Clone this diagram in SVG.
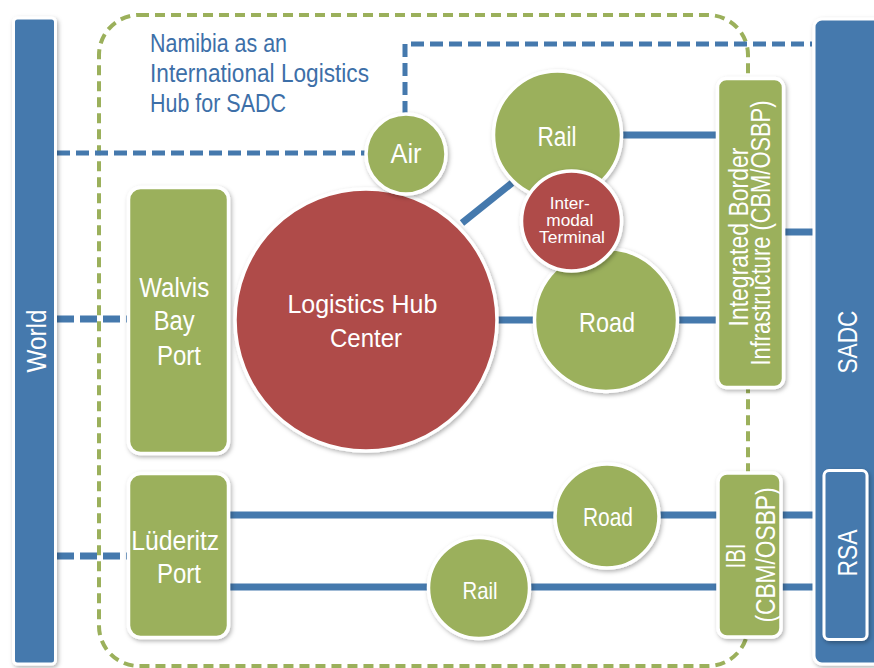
<svg xmlns="http://www.w3.org/2000/svg" width="874" height="668" viewBox="0 0 874 668">
  <defs>
    <filter id="shadow" x="-20%" y="-20%" width="140%" height="140%">
      <feDropShadow dx="1.5" dy="2" stdDeviation="2" flood-color="#000" flood-opacity="0.3"/>
    </filter>
    <style>
      .bar { fill: #4579AD; stroke: #fff; stroke-width: 3; filter: url(#shadow); }
      .green { fill: #9BB05B; stroke: #fff; stroke-width: 3.5; filter: url(#shadow); }
      .red { fill: #AF4B48; stroke: #fff; stroke-width: 3.5; filter: url(#shadow); }
      .frame { fill: none; stroke: #9BB05B; stroke-width: 4; stroke-dasharray: 10 6; }
      .dash { fill: none; stroke: #4579AD; stroke-width: 5; stroke-dasharray: 13 6; }
      .dash-thick { fill: none; stroke: #4579AD; stroke-width: 7; stroke-dasharray: 17 6; }
      .link { fill: none; stroke: #4579AD; stroke-width: 7; }
      .lbl { font-family: "Liberation Sans", Arial, sans-serif; fill: #fff; text-anchor: middle; }
      .title { font-family: "Liberation Sans", Arial, sans-serif; fill: #3D6FA8; font-size: 25px; }
    </style>
  </defs>

  <rect width="874" height="668" fill="#fff"/>

  <!-- Namibia hub boundary -->
  <rect class="frame" x="99" y="15" width="649" height="651" rx="40"/>

  <g id="title">
    <text class="title" x="150" y="52" textLength="137" lengthAdjust="spacingAndGlyphs">Namibia as an</text>
    <text class="title" x="150" y="82" textLength="219" lengthAdjust="spacingAndGlyphs">International Logistics</text>
    <text class="title" x="150" y="112" textLength="136" lengthAdjust="spacingAndGlyphs">Hub for SADC</text>
  </g>

  <!-- Connectors -->
  <g id="connectors">
    <path class="dash" d="M57 153 H366"/>
    <path class="dash" d="M405 114 V44 H812"/>
    <path class="dash-thick" d="M57 319 H127"/>
    <path class="dash-thick" d="M57 556 H127"/>
    <path class="link" d="M462 223 L512 183"/>
    <path class="link" d="M622 135 H717"/>
    <path class="link" d="M498 320 H536"/>
    <path class="link" d="M676 320 H717"/>
    <path class="link" d="M784 232 H814"/>
    <path class="link" d="M230 515 H824"/>
    <path class="link" d="M230 587 H824"/>
  </g>

  <!-- Side regions -->
  <g id="world">
    <rect class="bar" x="13.5" y="18" width="42" height="646" rx="4"/>
    <text class="lbl" x="46" y="341" font-size="28" textLength="63" lengthAdjust="spacingAndGlyphs" transform="rotate(-90 46 341)">World</text>
  </g>
  <g id="sadc">
    <rect class="bar" x="814" y="19" width="75" height="645" rx="8"/>
    <text class="lbl" x="857" y="342" font-size="28" textLength="63" lengthAdjust="spacingAndGlyphs" transform="rotate(-90 857 342)">SADC</text>
  </g>
  <g id="rsa">
    <rect class="bar" x="824" y="470.5" width="43" height="169" rx="5"/>
    <text class="lbl" x="857" y="553" font-size="28" textLength="47" lengthAdjust="spacingAndGlyphs" transform="rotate(-90 857 553)">RSA</text>
  </g>

  <!-- Ports -->
  <g id="walvis-bay-port">
    <rect class="green" x="128.5" y="187.5" width="100" height="266" rx="12"/>
    <text class="lbl" font-size="27">
      <tspan x="178" y="297" textLength="70" lengthAdjust="spacingAndGlyphs">Walvis</tspan>
      <tspan x="178" y="330" textLength="41" lengthAdjust="spacingAndGlyphs">Bay</tspan>
      <tspan x="179" y="365" textLength="44" lengthAdjust="spacingAndGlyphs">Port</tspan>
    </text>
  </g>
  <g id="luderitz-port">
    <rect class="green" x="128.5" y="473.5" width="100" height="164" rx="12"/>
    <text class="lbl" font-size="27">
      <tspan x="179" y="550" textLength="88" lengthAdjust="spacingAndGlyphs">Lüderitz</tspan>
      <tspan x="179" y="583" textLength="44" lengthAdjust="spacingAndGlyphs">Port</tspan>
    </text>
  </g>

  <!-- Logistics hub -->
  <g id="logistics-hub">
    <circle class="red" cx="366" cy="320" r="131"/>
    <text class="lbl" font-size="26">
      <tspan x="366" y="313" textLength="150" lengthAdjust="spacingAndGlyphs">Logistics Hub</tspan>
      <tspan x="366" y="347" textLength="72" lengthAdjust="spacingAndGlyphs">Center</tspan>
    </text>
  </g>

  <g id="air">
    <circle class="green" cx="406" cy="154" r="40"/>
    <text class="lbl" x="406" y="163" font-size="27" textLength="31" lengthAdjust="spacingAndGlyphs">Air</text>
  </g>

  <g id="rail">
    <circle class="green" cx="557.5" cy="135" r="64"/>
    <text class="lbl" x="557" y="146" font-size="27" textLength="39" lengthAdjust="spacingAndGlyphs">Rail</text>
  </g>

  <g id="road">
    <circle class="green" cx="606" cy="320" r="71.5"/>
    <text class="lbl" x="607" y="332" font-size="28" textLength="56" lengthAdjust="spacingAndGlyphs">Road</text>
  </g>

  <g id="intermodal-terminal">
    <circle class="red" cx="571.5" cy="221" r="50"/>
    <text class="lbl" font-size="16">
      <tspan x="572" y="209" textLength="40" lengthAdjust="spacingAndGlyphs">Inter-</tspan>
      <tspan x="572" y="226" textLength="47" lengthAdjust="spacingAndGlyphs">modal</tspan>
      <tspan x="572" y="243" textLength="66" lengthAdjust="spacingAndGlyphs">Terminal</tspan>
    </text>
  </g>

  <!-- Border infrastructure -->
  <g id="integrated-border">
    <rect class="green" x="717.5" y="78.5" width="66" height="309" rx="9"/>
    <text class="lbl" x="748" y="237" font-size="27" textLength="179" lengthAdjust="spacingAndGlyphs" transform="rotate(-90 748 237)">Integrated Border</text>
    <text class="lbl" x="770" y="233" font-size="27" textLength="265" lengthAdjust="spacingAndGlyphs" transform="rotate(-90 770 233)">Infrastructure (CBM/OSBP)</text>
  </g>

  <g id="road-south">
    <circle class="green" cx="607" cy="516" r="52"/>
    <text class="lbl" x="608" y="526" font-size="25" textLength="50" lengthAdjust="spacingAndGlyphs">Road</text>
  </g>

  <g id="rail-south">
    <circle class="green" cx="479" cy="588" r="50.5"/>
    <text class="lbl" x="480" y="599" font-size="24" textLength="35" lengthAdjust="spacingAndGlyphs">Rail</text>
  </g>

  <g id="ibi">
    <rect class="green" x="718" y="473" width="63" height="164" rx="9"/>
    <text class="lbl" x="745" y="556" font-size="27" textLength="25" lengthAdjust="spacingAndGlyphs" transform="rotate(-90 745 556)">IBI</text>
    <text class="lbl" x="775" y="555" font-size="27" textLength="135" lengthAdjust="spacingAndGlyphs" transform="rotate(-90 775 555)">(CBM/OSBP)</text>
  </g>
</svg>
